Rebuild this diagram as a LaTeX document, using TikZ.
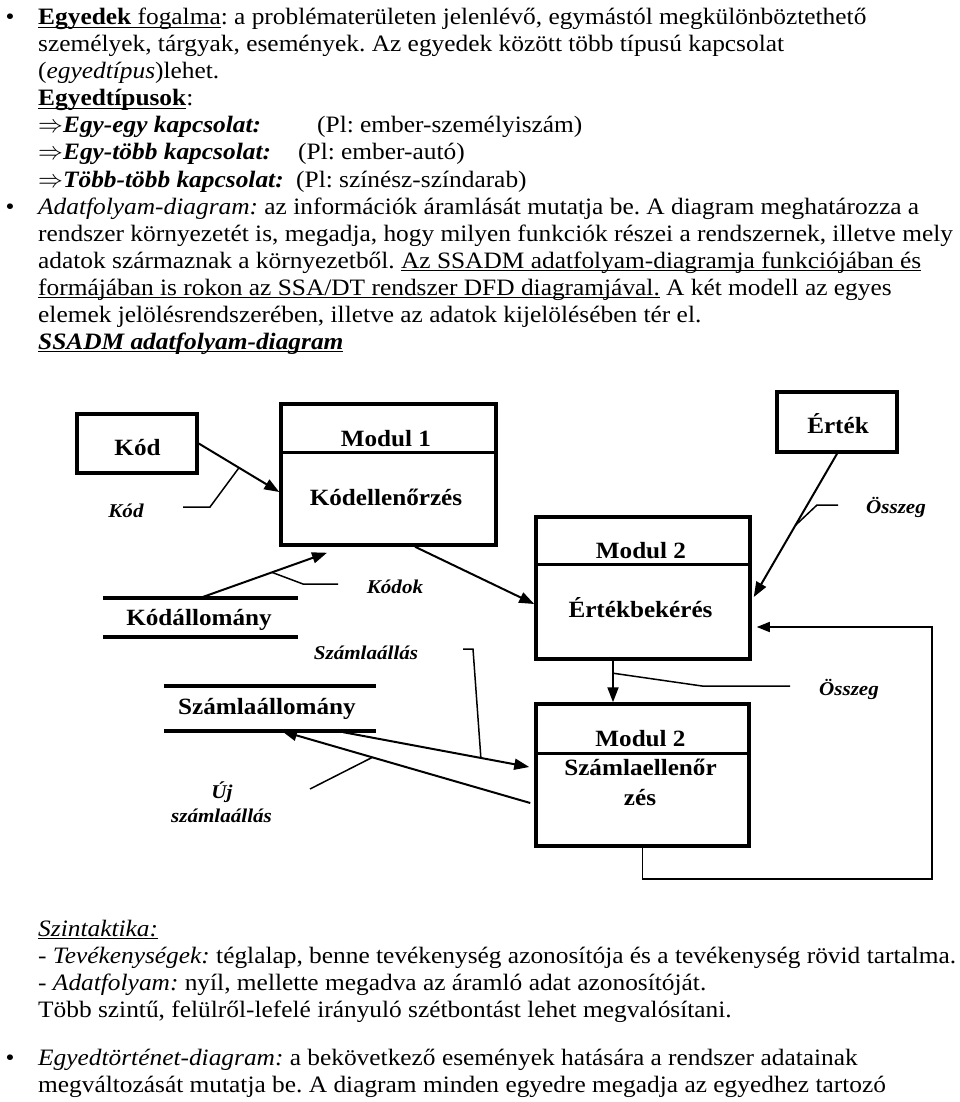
\documentclass[tikz,border=0pt]{standalone}
\usepackage{fontspec}
\setmainfont{Liberation Serif}[FakeStretch=1.08]
\usetikzlibrary{arrows.meta,calc}
\newcommand\ulx[1]{\setbox0=\hbox{#1}\rlap{\smash{\rule[-3pt]{\wd0}{1.3pt}}}\box0\relax}
\frenchspacing
\tikzset{
  body/.style={anchor=base west, inner sep=0pt, font=\fontsize{23.5}{27}\selectfont},
  bul/.style={anchor=base, inner sep=0pt, font=\fontsize{23.5}{27}\selectfont},
  boxtxt/.style={anchor=base, inner sep=0pt, font=\fontsize{23.3}{27}\selectfont\bfseries},
  lbl/.style={anchor=base, inner sep=0pt, font=\fontsize{19.5}{24}\selectfont\bfseries\itshape},
  box/.style={draw, line width=3.5pt, inner sep=0pt},
  store/.style={inner sep=0pt},
  sline/.style={line width=3.5pt},
  divl/.style={line width=3pt},
  arr/.style={line width=2pt, -{Triangle[length=15pt,width=11pt]}},
  lead/.style={line width=1.5pt},
  loopline/.style={line width=1.6pt, -{Triangle[length=13pt,width=10pt]}}
}
\begin{document}
\begin{tikzpicture}[x=1pt,y=-1pt]
\useasboundingbox (0,0) rectangle (960,1102);
% ---------- upper text ----------
\node[bul] (u1) at (10,25) {•};
\node[body] (t1) at (38,25) {\ulx{\textbf{Egyedek} fogalma}: a problématerületen jelenlévő, egymástól megkülönböztethető};
\node[body] (t2) at (38,52) {személyek, tárgyak, események. Az egyedek között több típusú kapcsolat};
\node[body] (t3) at (38,79) {(\textit{egyedtípus})lehet.};
\node[body] (t4) at (38,106) {\ulx{\textbf{Egyedtípusok}}:};
\node[body] (t5) at (38,133) {$\Rightarrow$\textbf{\textit{Egy-egy kapcsolat:}}};
\node[body] (t5b) at (317,133) {(Pl: ember-személyiszám)};
\node[body] (t6) at (38,160) {$\Rightarrow$\textbf{\textit{Egy-több kapcsolat:}}};
\node[body] (t6b) at (298,160) {(Pl: ember-autó)};
\node[body] (t7) at (38,187) {$\Rightarrow$\textbf{\textit{Több-több kapcsolat:}}};
\node[body] (t7b) at (296,187) {(Pl: színész-színdarab)};
\node[bul] (u2) at (10,214) {•};
\node[body] (t8) at (38,214) {\textit{Adatfolyam-diagram:} az információk áramlását mutatja be. A diagram meghatározza a};
\node[body] (t9) at (38,241) {rendszer környezetét is, megadja, hogy milyen funkciók részei a rendszernek, illetve mely};
\node[body] (t10) at (38,268) {adatok származnak a környezetből. \ulx{Az SSADM adatfolyam-diagramja funkciójában és}};
\node[body] (t11) at (38,295) {\ulx{formájában is rokon az SSA/DT rendszer DFD diagramjával.} A két modell az egyes};
\node[body] (t12) at (38,322) {elemek jelölésrendszerében, illetve az adatok kijelölésében tér el.};
\node[body] (t13) at (38,349) {\ulx{\textbf{\textit{SSADM adatfolyam-diagram}}}};
% ---------- diagram boxes ----------
\node[box, minimum width=120pt, minimum height=59pt] (kod) at (137,443.5) {};
\node[boxtxt] (kodt) at (137.5,455) {Kód};
\node[box, minimum width=215pt, minimum height=141pt] (m1) at (388.5,474.5) {};
\draw[divl] (m1.west) ++(0,-22.5) -- ++(215,0);
\node[boxtxt] (m1a) at (386,446) {Modul 1};
\node[boxtxt] (m1b) at (386,505) {Kódellenőrzés};
\node[box, minimum width=120pt, minimum height=60pt] (ert) at (837,422) {};
\node[boxtxt] (ertt) at (838,433) {Érték};
\node[box, minimum width=214pt, minimum height=142pt] (m2a) at (643,588) {};
\draw[divl] (m2a.west) ++(0,-24) -- ++(214,0);
\node[boxtxt] (m2at) at (641,558) {Modul 2};
\node[boxtxt] (m2ab) at (640.5,617) {Értékbekérés};
\node[box, minimum width=213pt, minimum height=142pt] (m2b) at (642.5,775) {};
\draw[divl] (m2b.west) ++(0,-22) -- ++(213,0);
\node[boxtxt] (m2bt) at (640.5,746) {Modul 2};
\node[boxtxt] (m2bb) at (640.5,775) {Számlaellenőr};
\node[boxtxt] (m2bc) at (640,805) {zés};
% stores
\node[store, minimum width=195pt, minimum height=39pt] (ka) at (200.5,617.5) {};
\draw[sline] (ka.north west) -- (ka.north east);
\draw[sline] (ka.south west) -- (ka.south east);
\node[boxtxt] (kat) at (199,625) {Kódállomány};
\node[store, minimum width=212pt, minimum height=45pt] (sz) at (270,708.5) {};
\draw[sline] (sz.north west) -- (sz.north east);
\draw[sline] (sz.south west) -- (sz.south east);
\node[boxtxt] (szt) at (267,714) {Számlaállomány};
% labels
\node[lbl] (kodl) at (126,517) {Kód};
\node[lbl] (kodok) at (395,593) {Kódok};
\node[lbl] (szl) at (366,659) {Számlaállás};
\node[lbl] (osz1) at (896,513) {Összeg};
\node[lbl] (osz2) at (849,695) {Összeg};
\node[lbl] (uj1) at (222,798) {Új};
\node[lbl] (uj2) at (221.5,822) {számlaállás};
% ---------- connectors ----------
\draw[arr] (kod.east) -- coordinate[pos=0.5] (a1) ($(m1.west)+(0,17.5)$);
\draw[arr] (ka.north) -- coordinate[pos=0.565] (a2) ($(m1.south)+(-61.5,6)$);
\draw[arr] ($(m1.south)+(26.5,0)$) -- ($(m2a.west)+(0,16)$);
\draw[arr] (ert.south) -- coordinate[pos=0.5] (a4) ($(m2a.east)+(2,9)$);
\coordinate (a5s) at ($(m2a.south)+(-30,0)$);
\draw[arr] (a5s) -- coordinate[pos=0.3] (a5) (a5s |- m2b.north);
\draw[arr] ($(sz.south east)+(-33,1)$) -- coordinate[pos=0.74] (a6) ($(m2b.west)+(-5,-8)$);
\draw[arr] ($(m2b.west)+(-4,28)$) -- coordinate[pos=0.636] (a7) ($(sz.south)+(12,0)$);
\draw[loopline] (m2b.south) -- ++(0,31) -- ++(289.5,0) |- ($(m2a.east)+(5,39)$);
% leaders
\coordinate (l1) at (183,507);
\draw[lead] (l1) -- ++(27,0) -- (a1);
\coordinate (l2) at (338,584);
\draw[lead] (l2) -- ++(-35,0) -- (a2);
\coordinate (l4) at (838,505);
\draw[lead] (l4) -- ++(-21,0) -- (a4);
\coordinate (l5) at (790,686);
\draw[lead] (l5) -- ++(-88,0) -- (a5);
\coordinate (l6) at (463,649);
\draw[lead] (l6) -- ++(10,0) -- (a6);
\coordinate (l7) at (310,789);
\draw[lead] (l7) -- (a7);
% ---------- lower text ----------
\node[body] (s1) at (38,936) {\ulx{\textit{Szintaktika:}}};
\node[body] (s2) at (38,963) {- \textit{Tevékenységek:} téglalap, benne tevékenység azonosítója és a tevékenység rövid tartalma.};
\node[body] (s3) at (38,990) {- \textit{Adatfolyam:} nyíl, mellette megadva az áramló adat azonosítóját.};
\node[body] (s4) at (38,1017) {Több szintű, felülről-lefelé irányuló szétbontást lehet megvalósítani.};
\node[bul] (u3) at (10,1065) {•};
\node[body] (s5) at (38,1065) {\textit{Egyedtörténet-diagram:} a bekövetkező események hatására a rendszer adatainak};
\node[body] (s6) at (38,1092) {megváltozását mutatja be. A diagram minden egyedre megadja az egyedhez tartozó};
\end{tikzpicture}
\end{document}
